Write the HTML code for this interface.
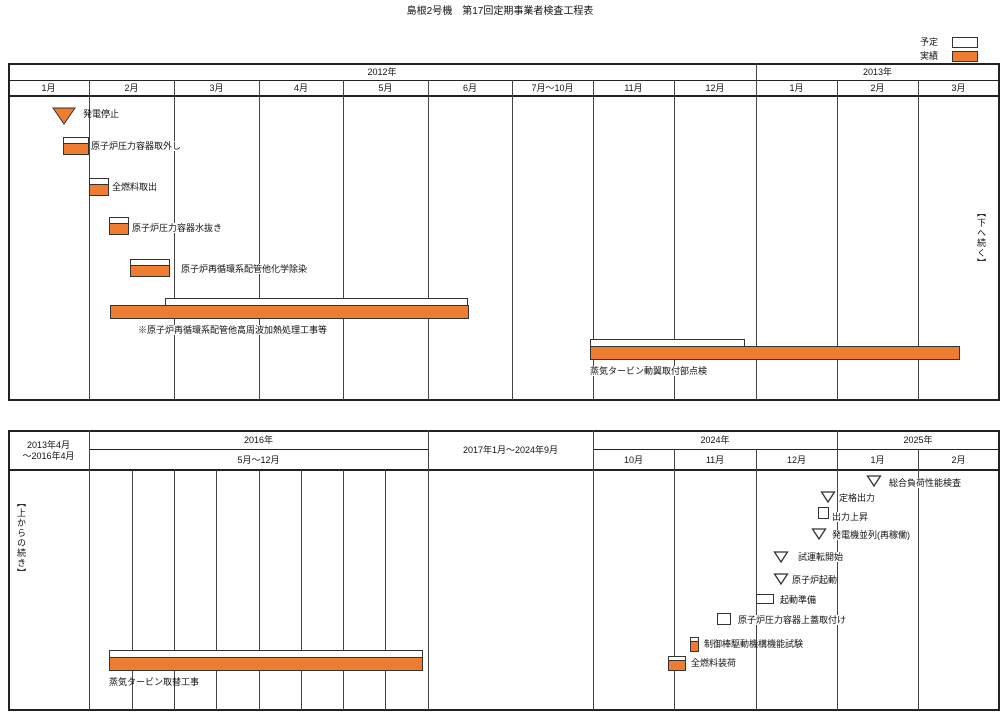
<!DOCTYPE html>
<html><head><meta charset="utf-8">
<style>
body{margin:0;width:1000px;height:721px;background:#fff;position:relative;overflow:hidden;font-family:"Liberation Sans","Noto Sans CJK JP",sans-serif;font-size:9px;color:#111}
.a{position:absolute}
.t{position:absolute;white-space:nowrap;font-size:9px;line-height:10px}
.c{position:absolute;text-align:center;font-size:9px;line-height:10px}
.vl{position:absolute;width:0;border-left:1.5px solid #444}
.hl{position:absolute;height:0;border-top:1.5px solid #222}
.box{position:absolute;border:2px solid #222;box-sizing:border-box}
.pl{position:absolute;background:#fff;border:1px solid #333;box-sizing:border-box}
.ac{position:absolute;background:#ee7d31;border:1px solid #333;box-sizing:border-box}
.vt{position:absolute;writing-mode:vertical-rl;font-size:9px;letter-spacing:1px}
</style></head><body>
<div class="c" style="left:300px;top:7px;width:400px;font-size:10px">島根2号機　第17回定期事業者検査工程表</div>
<div class="t" style="left:920px;top:37px">予定</div>
<div class="pl" style="left:952px;top:37px;width:26px;height:11px"></div>
<div class="t" style="left:920px;top:51px">実績</div>
<div class="ac" style="left:952px;top:51px;width:26px;height:11px"></div>

<div class="box" style="left:8px;top:63px;width:992px;height:338px"></div>
<div class="box" style="left:8px;top:430px;width:992px;height:281px"></div>
<div id="g"></div>
<div class="vt" style="left:975px;top:208px">【下へ続く】</div>
<div class="vt" style="left:15px;top:498px">【上からの続き】</div>
<script>
// top panel column boundaries (axis) and labels
const topBounds=[8,89,174,259,343,428,512,593,674,756,837,918,999];
const topMonths=["1月","2月","3月","4月","5月","6月","7月～10月","11月","12月","1月","2月","3月"];
const topYears=["2012年","2013年"];
const topYearSpan=[[0,9],[9,12]];
// top tasks: [label, planStart, planEnd, actualStart, actualEnd] in column units
const topTasks=[
 ["原子炉圧力容器取外し",0.68,1.0,0.68,1.0],
 ["全燃料取出",1.0,1.24,1.0,1.24],
 ["原子炉圧力容器水抜き",1.24,1.47,1.24,1.47],
 ["原子炉再循環系配管他化学除染",1.48,1.95,1.48,1.95],
 ["※原子炉再循環系配管他高周波加熱処理工事等",1.89,5.48,1.25,5.49],
 ["蒸気タービン動翼取付部点検",6.96,8.87,6.96,11.52]];
const topRows=[137,178,217,259,298,339];
const topLabelPos=[[91,141],[112,182],[132,223],[181,264],[138,325],[590,366]];
const topMilestones=[["発電停止",0.69]];

const botBounds=[8,89,132,174,216,259,301,343,385,428,593,674,756,837,918,999];
const botTasks=[
 ["蒸気タービン取替工事",1.47,8.88,1.47,8.88],
 ["全燃料装荷",10.93,11.15,10.93,11.15],
 ["制御棒駆動機構機能試験",11.2,11.3,11.2,11.3]];
const botRows=[650,656,637];
const botLabelPos=[[109,677],[691,658],[704,639]];
const botBoxes=[["原子炉圧力容器上蓋取付け",11.52,11.7],["起動準備",12.0,12.22],["出力上昇",12.77,12.9]];
const botBoxY=[613,594,507];
const botBoxH=[12,10,12];
const botBoxLabel=[[738,615],[780,595],[832,512]];
const botMiles=[["原子炉起動",12.31],["試運転開始",12.31],["発電機並列(再稼働)",12.78],["定格出力",12.89],["総合負荷性能検査",13.46]];
const botMileY=[573,551,528,491,475];
const botMileLabel=[[792,575],[798,552],[832,530],[839,493],[889,478]];

function sx(b,v){const i=Math.min(Math.floor(v),b.length-2);return b[i]+(v-i)*(b[i+1]-b[i]);}
const g=document.getElementById('g');
function mk(cls,name,st,txt){const e=document.createElement('div');e.className=cls;


e.style.cssText=st;if(txt)e.textContent=txt;g.appendChild(e);return e;}
// top header
mk('hl','top-header-line','left:8px;top:80px;width:991px');
mk('hl','top-header-bottom','left:8px;top:95px;width:991px;border-top-width:2px');
topYears.forEach((y,i)=>{const a=sx(topBounds,topYearSpan[i][0]),b=sx(topBounds,topYearSpan[i][1]);
 mk('c','year-label','left:'+a+'px;top:67px;width:'+(b-a)+'px',y);});
mk('vl','year-divider','left:756px;top:63px;height:33px');
topMonths.forEach((m,i)=>{mk('c','month-label','left:'+topBounds[i]+'px;top:83px;width:'+(topBounds[i+1]-topBounds[i])+'px',m);
 if(i>0)mk('vl','month-gridline','left:'+topBounds[i]+'px;top:80px;height:320px');});
topTasks.forEach((t,i)=>{const y=topRows[i];
 const ph=i>=4?7:6, ah=i>=4?14:12;
 mk('pl','plan-bar','left:'+sx(topBounds,t[1])+'px;top:'+y+'px;width:'+(sx(topBounds,t[2])-sx(topBounds,t[1]))+'px;height:'+(ph+1)+'px');
 mk('ac','actual-bar','left:'+sx(topBounds,t[3])+'px;top:'+(y+ph)+'px;width:'+(sx(topBounds,t[4])-sx(topBounds,t[3]))+'px;height:'+ah+'px');
 mk('t','task-label','left:'+topLabelPos[i][0]+'px;top:'+topLabelPos[i][1]+'px;background:#fff',t[0]);});
topMilestones.forEach(m=>{const x=sx(topBounds,m[1]);
 const s=document.createElementNS('http://www.w3.org/2000/svg','svg');
 
 
 s.setAttribute('width','26');s.setAttribute('height','18');
 s.style.cssText='position:absolute;left:'+(x-13)+'px;top:107px';
 s.innerHTML='<polygon points="2,1 24,1 13,17" fill="#ee7d31" stroke="#333"/>';g.appendChild(s);
 mk('t','milestone-label','left:83px;top:109px',m[0]);});
// bottom header
mk('hl','bottom-header-line','left:89px;top:449px;width:339px');
mk('hl','bottom-header-line-2','left:593px;top:449px;width:406px');
mk('hl','bottom-header-bottom','left:8px;top:469px;width:991px;border-top-width:2px');
[89,428,593,837].forEach(x=>mk('vl','header-divider','left:'+x+'px;top:430px;height:40px'));
[674,756,918].forEach(x=>mk('vl','header-divider','left:'+x+'px;top:449px;height:21px'));
mk('c','period-label','left:8px;top:440px;width:81px','2013年4月');
mk('c','period-label','left:8px;top:451px;width:81px','～2016年4月');
mk('c','year-label','left:89px;top:435px;width:339px','2016年');
mk('c','month-label','left:89px;top:455px;width:339px','5月～12月');
mk('c','period-label','left:428px;top:445px;width:165px','2017年1月～2024年9月');
mk('c','year-label','left:593px;top:435px;width:244px','2024年');
mk('c','year-label','left:837px;top:435px;width:162px','2025年');
["10月","11月","12月","1月","2月"].forEach((m,i)=>mk('c','month-label','left:'+botBounds[10+i]+'px;top:455px;width:'+(botBounds[11+i]-botBounds[10+i])+'px',m));
botBounds.slice(1,-1).forEach(x=>mk('vl','month-gridline','left:'+x+'px;top:470px;height:240px'));
botTasks.forEach((t,i)=>{const y=botRows[i];const big=i==0;
 const ph=big?7:4, ah=big?14:11;
 mk('pl','plan-bar','left:'+sx(botBounds,t[1])+'px;top:'+y+'px;width:'+(sx(botBounds,t[2])-sx(botBounds,t[1]))+'px;height:'+(ph+1)+'px');
 mk('ac','actual-bar','left:'+sx(botBounds,t[3])+'px;top:'+(y+ph)+'px;width:'+(sx(botBounds,t[4])-sx(botBounds,t[3]))+'px;height:'+ah+'px');
 mk('t','task-label','left:'+botLabelPos[i][0]+'px;top:'+botLabelPos[i][1]+'px',t[0]);});
botBoxes.forEach((b,i)=>{const a=sx(botBounds,b[1]),c=sx(botBounds,b[2]);
 mk('pl','plan-box','left:'+a+'px;top:'+botBoxY[i]+'px;width:'+(c-a)+'px;height:'+botBoxH[i]+'px;border-width:1.5px');
 mk('t','task-label','left:'+botBoxLabel[i][0]+'px;top:'+botBoxLabel[i][1]+'px;background:#fff',b[0]);});
botMiles.forEach((m,i)=>{const x=sx(botBounds,m[1]);
 const s=document.createElementNS('http://www.w3.org/2000/svg','svg');
 
 
 s.setAttribute('width','16');s.setAttribute('height','12');
 s.style.cssText='position:absolute;left:'+(x-8)+'px;top:'+botMileY[i]+'px';
 s.innerHTML='<polygon points="1.5,1 14.5,1 8,11" fill="#fff" stroke="#333" stroke-width="1.3"/>';g.appendChild(s);
 mk('t','milestone-label','left:'+botMileLabel[i][0]+'px;top:'+botMileLabel[i][1]+'px;background:#fff',m[0]);});
</script>
</body></html>
